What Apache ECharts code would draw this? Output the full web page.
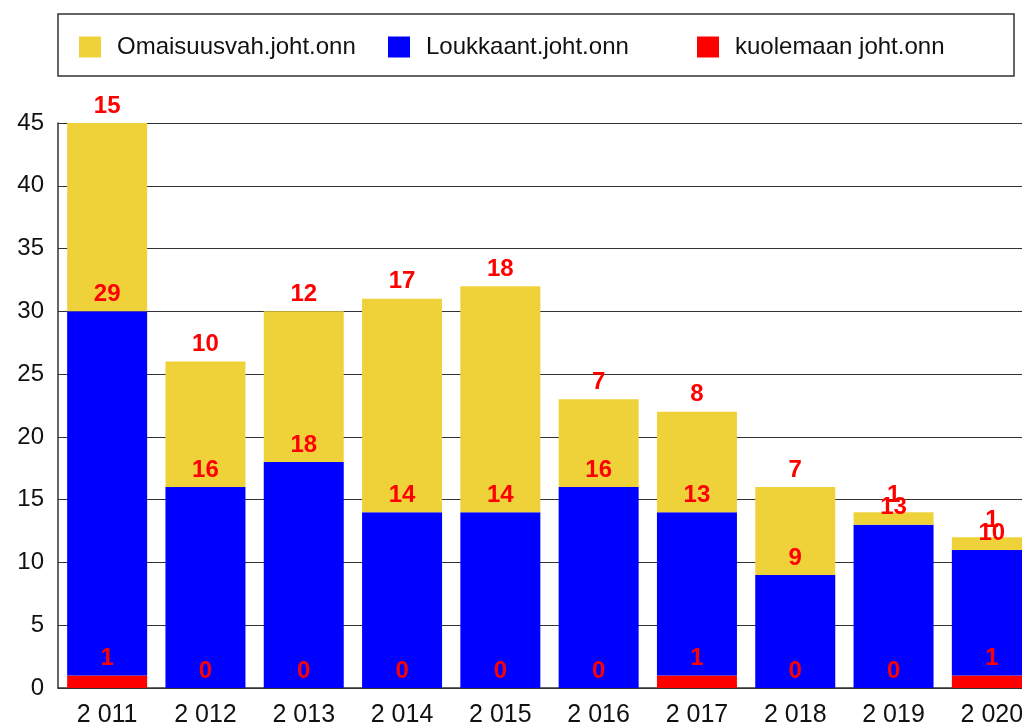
<!DOCTYPE html>
<html>
<head>
<meta charset="utf-8">
<script src="https://cdn.jsdelivr.net/npm/echarts@6/dist/echarts.min.js"></script>
<style>
  html, body { margin: 0; padding: 0; background: #fff; }
  #chart { width: 1022px; height: 728px; }
</style>
</head>
<body>
<div id="chart"></div>
<script>
// vuodet
const years = ['2 011', '2 012', '2 013', '2 014', '2 015', '2 016', '2 017', '2 018', '2 019', '2 020']
// onnettomuudet
const kuolemaan = [1, 0, 0, 0, 0, 0, 1, 0, 0, 1]
const loukkaant = [29, 16, 18, 14, 14, 16, 13, 9, 13, 10]
const omaisuus = [15, 10, 12, 17, 18, 7, 8, 7, 1, 1]
const names = ['Omaisuusvah.joht.onn', 'Loukkaant.joht.onn', 'kuolemaan joht.onn']

const FONT = 'Arial, "Liberation Sans", sans-serif'

const chart = echarts.init(document.getElementById('chart'))

const labelStyle = {
  show: true,
  position: 'top',
  distance: 5,
  color: '#ff0000',
  fontWeight: 'bold',
  fontSize: 24,
  fontFamily: FONT
}

function bar(name, data, color) {
  return {
    type: 'bar',
    name: name,
    stack: 'all',
    data: data,
    barWidth: 80,
    itemStyle: { color: color },
    label: labelStyle
  }
}

// legend columns are evenly spaced, one legend per column
const legendLeft = [79, 388, 697]
const legends = names.map((n, i) => ({
  left: legendLeft[i],
  top: 35,
  padding: 0,
  itemWidth: 22,
  itemHeight: 21,
  icon: 'rect',
  textStyle: {
    color: '#111',
    fontSize: 24,
    fontFamily: FONT,
    padding: [0, 0, 0, 11]
  },
  data: [n]
}))

chart.setOption({
  animation: false,
  graphic: [{
    type: 'rect',
    shape: { x: 58, y: 14, width: 956, height: 62 },
    style: { fill: 'none', stroke: '#333', lineWidth: 1.5 }
  }],
  legend: legends,
  grid: { left: 58, width: 983, top: 123, bottom: 40, outerBoundsMode: 'none' },
  xAxis: {
    type: 'category',
    data: years,
    axisLine: { lineStyle: { color: '#333', width: 1.5 } },
    axisTick: { show: false },
    axisLabel: { color: '#111', fontSize: 25, fontFamily: FONT, margin: 15 }
  },
  yAxis: {
    type: 'value',
    min: 0,
    max: 45,
    interval: 5,
    axisLine: { show: true, lineStyle: { color: '#333', width: 1.5 } },
    axisTick: { show: false },
    splitLine: { lineStyle: { color: '#333', width: 1.2 } },
    axisLabel: { color: '#111', fontSize: 24, fontFamily: FONT, margin: 14 }
  },
  series: [
    bar(names[2], kuolemaan, '#ff0000'),
    bar(names[1], loukkaant, '#0000ff'),
    bar(names[0], omaisuus, '#efd23a')
  ]
})
</script>
</body>
</html>
